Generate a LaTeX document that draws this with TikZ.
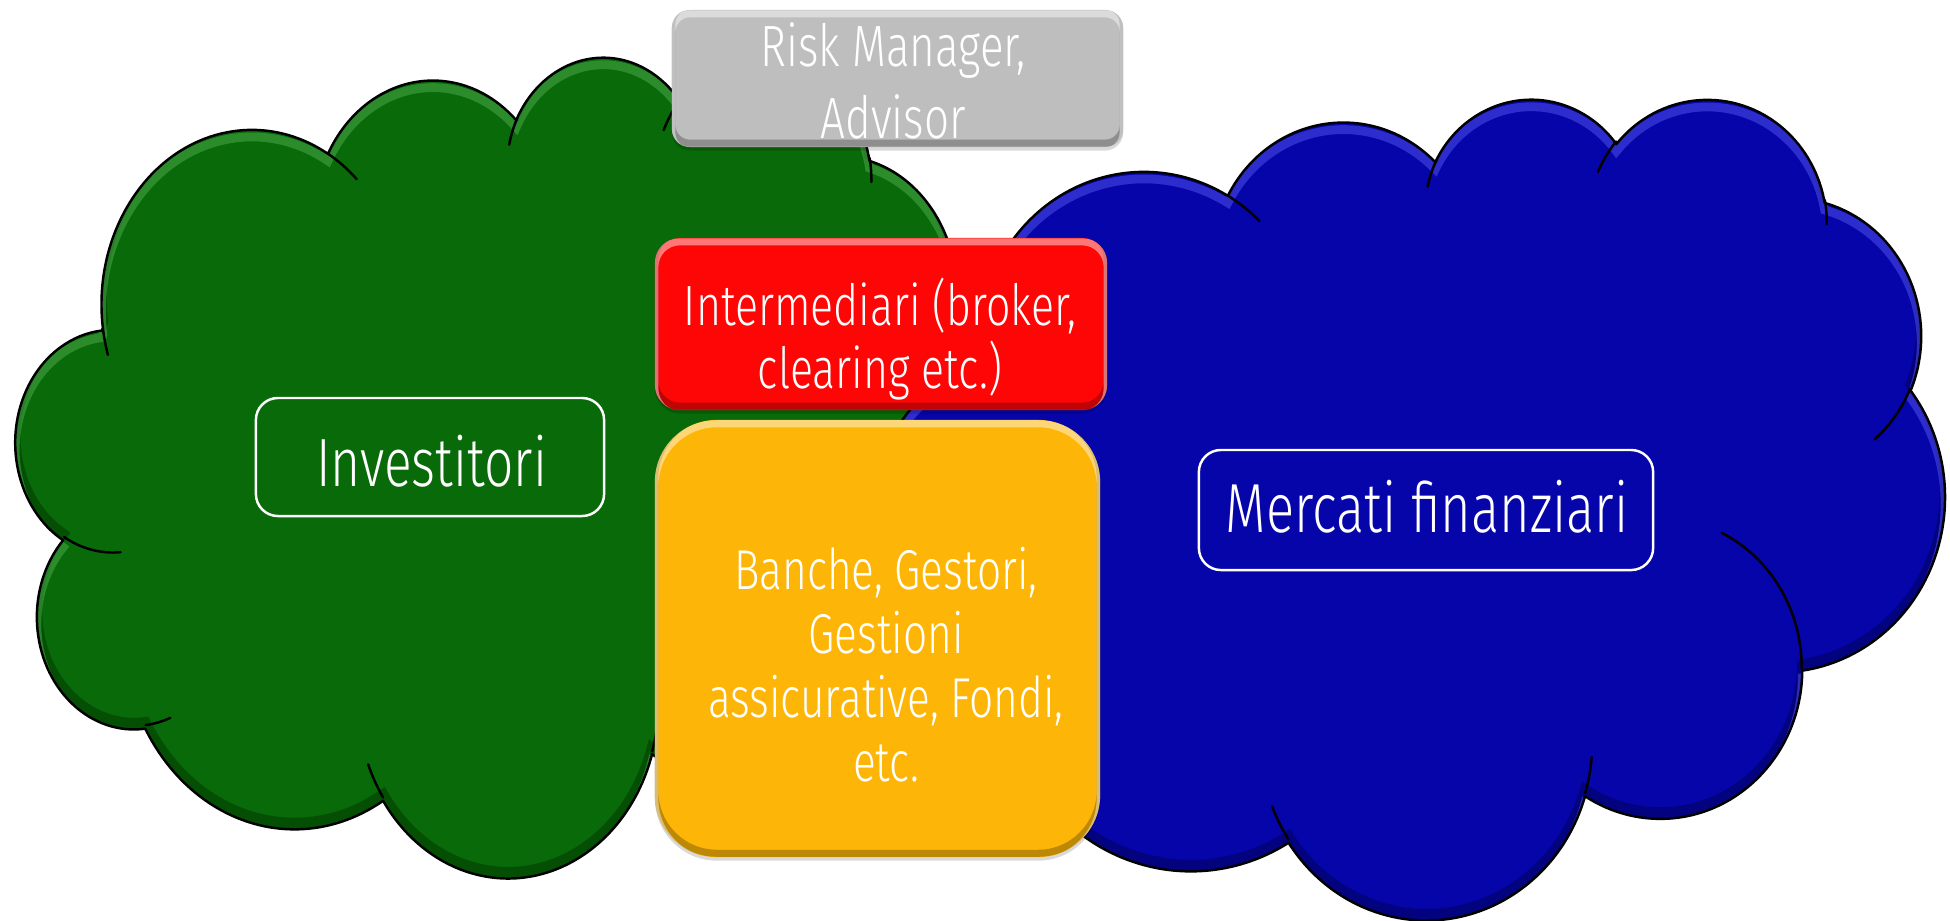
\documentclass[tikz,border=0pt]{standalone}
\usepackage{fontspec}
\IfFontExistsTF{Fira Sans Light}
  {\newfontfamily\cnd{Fira Sans Light}[FakeStretch=0.755, Scale=1.04]}
  {\newfontfamily\cnd{Liberation Sans}[FakeStretch=0.78]}
\usetikzlibrary{shadows}

\definecolor{cloudgreen}{RGB}{8,106,8}
\definecolor{cloudgreenhi}{RGB}{80,175,80}
\definecolor{cloudblue}{RGB}{5,5,170}
\definecolor{cloudbluehi}{RGB}{85,85,240}
\definecolor{boxgray}{RGB}{190,190,190}
\definecolor{boxred}{RGB}{254,6,6}
\definecolor{boxyellow}{RGB}{253,182,8}

% Elliptical arc given by a visual start angle and sweep (radii #2, #3),
% converted to TikZ's parametric angles and appended to the path macro #1.
\newcommand\appendarc[5]{%
  \pgfmathsetmacro\arcta{atan2(#2*sin(#4),#3*cos(#4))}%
  \pgfmathsetmacro\arctb{atan2(#2*sin(#4+#5),#3*cos(#4+#5))}%
  \pgfmathsetmacro\arcdd{(\arctb)-(\arcta)-(#5)}%
  \pgfmathsetmacro\arcdd{#5+(\arcdd)-360*round((\arcdd)/360)}%
  \xdef#1{#1 arc[start angle=\arcta, delta angle=\arcdd, x radius=#2, y radius=#3]}%
}
% Open arc starting at (#1,#2)
\newcommand\appendinner[6]{%
  \xdef\innerpath{\innerpath (#1,#2)}%
  \appendarc\innerpath{#3}{#4}{#5}{#6}%
}

% Cloud outline in a 432 x 432 box
\gdef\cloudpath{(39.00,143.70)}
\appendarc\cloudpath{67.53}{91.90}{-190.48748}{123.78053}
\appendarc\cloudpath{53.33}{72.67}{-144.10238}{89.94523}
\appendarc\cloudpath{43.65}{59.45}{-145.80792}{99.72302}
\appendarc\cloudpath{48.57}{65.95}{-130.98607}{117.24173}
\appendarc\cloudpath{53.33}{72.73}{-78.70888}{109.02692}
\appendarc\cloudpath{67.75}{92.20}{-46.26725}{130.26900}
\appendarc\cloudpath{57.85}{78.67}{0.62502}{114.03333}
\appendarc\cloudpath{67.52}{92.15}{22.45160}{115.17255}
\appendarc\cloudpath{77.20}{105.43}{66.24263}{75.71102}
\appendarc\cloudpath{43.60}{59.18}{-274.94208}{146.73557}
\appendarc\cloudpath{43.45}{59.45}{-246.82850}{152.51885}
\xdef\cloudpath{\cloudpath -- cycle}

% Fold lines between the puffs
\gdef\innerpath{}
\appendinner{46.93}{261.77}{43.45}{59.45}{86.742}{26.4295}
\appendinner{69.28}{348.99}{43.60}{59.18}{73.61047}{11.44747}
\appendinner{164.78}{390.90}{67.52}{92.15}{137.62415}{14.0811}
\appendinner{288.27}{347.51}{67.52}{92.15}{6.45327}{15.99835}
\appendinner{341.29}{229.54}{57.85}{78.67}{-70.29235}{70.91737}
\appendinner{417.98}{153.54}{53.33}{72.73}{30.31803}{27.7515}
\appendinner{383.24}{54.26}{48.57}{65.95}{-13.74433}{14.85115}
\appendinner{290.78}{39.52}{48.57}{65.95}{-149.18145}{18.19893}
\appendinner{221.41}{47.20}{43.65}{59.45}{-163.49427}{17.69677}
\appendinner{140.00}{51.92}{67.53}{91.90}{-66.70695}{12.31935}
\appendinner{41.27}{157.89}{67.53}{91.90}{157.65435}{11.85817}

\tikzset{
  cloudline/.style={draw=black, line width=0.7pt, line join=round},
  bevelbox/.style n args={4}{
    rectangle, rounded corners=#1, fill=#2,
    drop shadow={shadow xshift=0pt, shadow yshift=-1pt, opacity=.15, fill=black},
    path picture={
      \draw[#4, opacity=.25, line width=2pt, rounded corners=#1]
        ([yshift=1.1pt]path picture bounding box.south west) rectangle
        ([yshift=1.1pt]path picture bounding box.north east);
      \draw[#3, opacity=.45, line width=2pt, rounded corners=#1]
        ([yshift=-1.1pt]path picture bounding box.south west) rectangle
        ([yshift=-1.1pt]path picture bounding box.north east);
    }
  },
  labelbox/.style={rectangle, rounded corners=0.22cm, draw=white, line width=0.7pt},
  lbl/.style={text=white, align=center, inner sep=0pt}
}

\newcommand\drawcloud[2]{% fill colour, highlight colour
  \fill[#1] \cloudpath;
  \begin{scope}
    \clip \cloudpath;
    \draw[black, opacity=.25, line width=3pt, yshift=1.8pt] \cloudpath;
    \draw[#2, opacity=.5, line width=2.5pt, yshift=-2pt] \cloudpath;
  \end{scope}
  \draw[cloudline] \cloudpath;
  \draw[cloudline, line cap=round] \innerpath;
}

\begin{document}
\begin{tikzpicture}[x=0.01cm, y=-0.01cm, every node/.style={outer sep=0pt}]
\fill[white] (0,0) rectangle (1950,920);
\useasboundingbox (0,0) rectangle (1950,920);

% left cloud
\begin{scope}[shift={(16,55)}, x=0.022269cm, y=-0.018981cm]
  \drawcloud{cloudgreen}{cloudgreenhi}
\end{scope}

% right cloud
\begin{scope}[shift={(884,97)}, x=0.024537cm, y=-0.018981cm]
  \drawcloud{cloudblue}{cloudbluehi}
\end{scope}

% framed labels inside the clouds
\node[labelbox, minimum width=3.48cm, minimum height=1.18cm] (invest) at (430,457) {};
\node[lbl, font=\cnd\fontsize{18.67}{22}\selectfont] (invest-text) at (431.5,461.5) {Investitori};

\node[labelbox, minimum width=4.54cm, minimum height=1.20cm] (mercati) at (1426,510) {};
\node[lbl, font=\cnd\fontsize{19}{23}\selectfont] (mercati-text) at (1427,507) {Mercati finanziari};

% stacked boxes in the middle
\node[bevelbox={0.18cm}{boxgray}{white}{black}, minimum width=4.51cm, minimum height=1.37cm] (risk) at (897.5,78.5) {};
\node[lbl, font=\cnd\fontsize{15.93}{20.49}\selectfont] (risk-text) at (893,81) {Risk Manager,\\Advisor};

\node[bevelbox={0.25cm}{boxred}{white}{black}, minimum width=4.52cm, minimum height=1.72cm] (inter) at (881,324) {};
\node[lbl, font=\cnd\fontsize{15.53}{17.93}\selectfont] (inter-text) at (880,339.4) {Intermediari (broker,\\clearing etc.)};

\node[bevelbox={0.62cm}{boxyellow}{white}{black}, minimum width=4.45cm, minimum height=4.37cm] (banche) at (877.5,638.5) {};
\node[lbl, font=\cnd\fontsize{15.36}{18.21}\selectfont] (banche-text) at (886,664.6) {Banche, Gestori,\\Gestioni\\assicurative, Fondi,\\etc.};
\end{tikzpicture}
\end{document}
